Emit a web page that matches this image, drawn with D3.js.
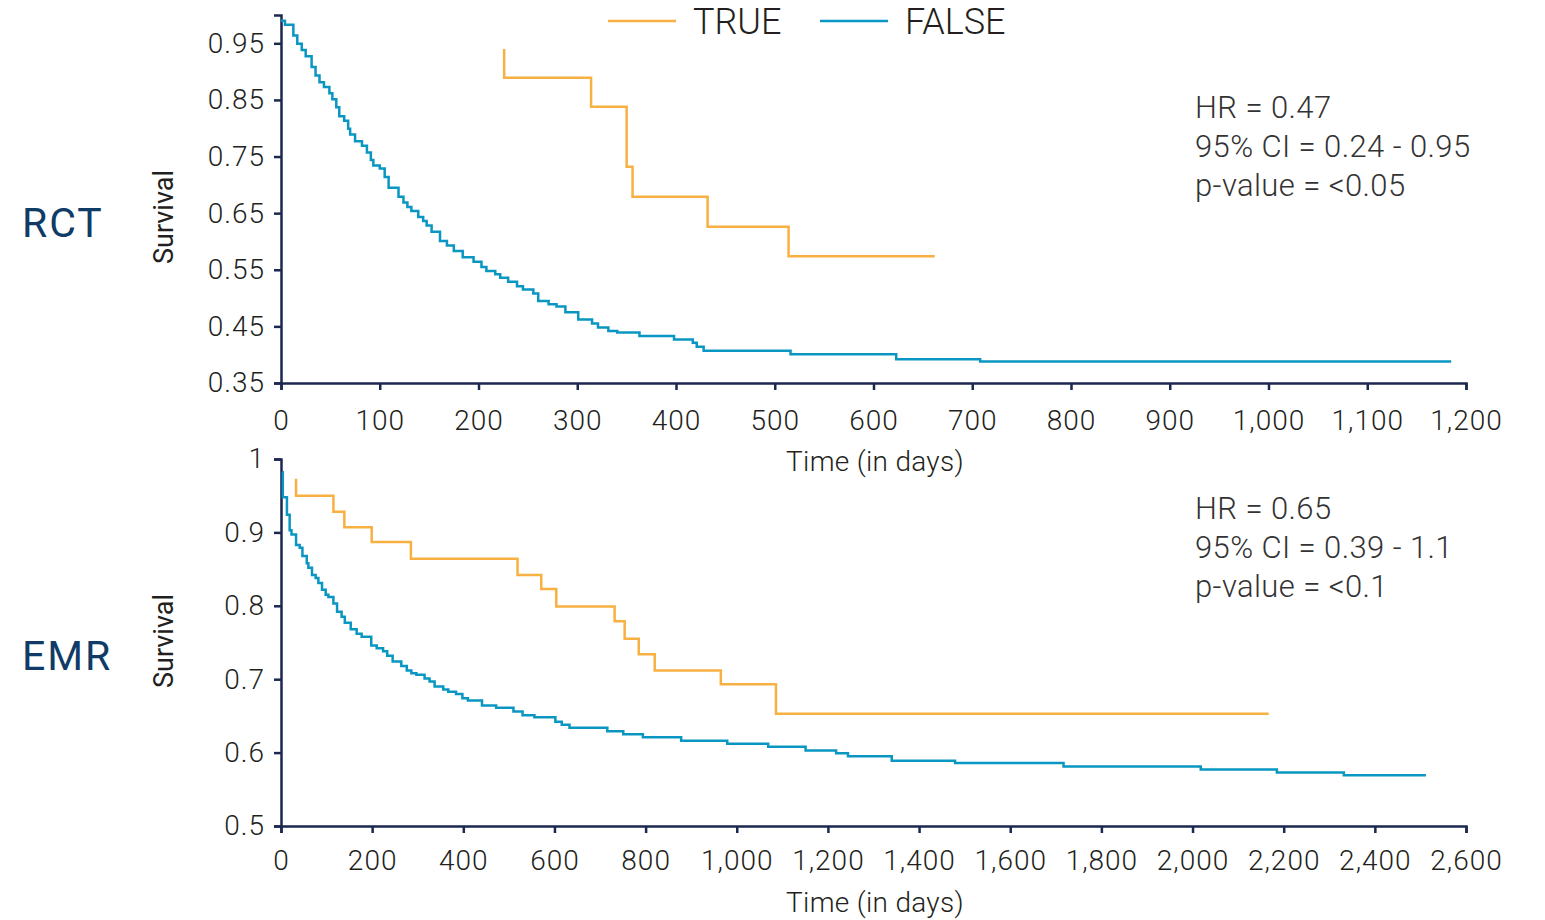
<!DOCTYPE html>
<html>
<head>
<meta charset="utf-8">
<script src="https://cdn.jsdelivr.net/npm/d3@7"></script>
<style>
  body { margin: 0; background: #fff; }
  text { font-family: Roboto, "Liberation Sans", sans-serif; }
</style>
</head>
<body>
<script>
// Kaplan-Meier curves, [time in days, survival]
var rctTrue = [[226, 0.94], [226, 0.889], [314, 0.838], [350, 0.732], [356, 0.679],
  [432, 0.626], [514, 0.574], [662, 0.574]];
var rctFalse = [[0, 0.990], [4, 0.983], [12.5, 0.964], [16.5, 0.949], [21, 0.938], [25, 0.927],
  [31, 0.908], [35, 0.893], [39, 0.881], [43.5, 0.873], [49, 0.862], [52, 0.851], [56, 0.837],
  [59, 0.821], [64, 0.813], [68, 0.799], [70, 0.789], [75, 0.777], [82, 0.769], [87, 0.757],
  [91, 0.744], [93.5, 0.734], [100, 0.729], [105, 0.714], [109, 0.695], [119, 0.679],
  [124, 0.669], [128, 0.661], [132, 0.654], [139, 0.643], [144, 0.636], [147.5, 0.628],
  [152.5, 0.617], [161, 0.601], [168, 0.593], [175, 0.583], [184, 0.572], [195, 0.564],
  [203, 0.555], [208, 0.548], [217, 0.542], [222, 0.536], [230, 0.529], [239, 0.521],
  [245, 0.515], [255.5, 0.508], [260.5, 0.495], [271, 0.489], [279, 0.485], [288, 0.475],
  [301, 0.462], [315, 0.455], [321, 0.448], [331.5, 0.442], [340.5, 0.439], [363, 0.433],
  [398, 0.427], [417, 0.421], [421, 0.414], [428, 0.407], [516, 0.401], [623, 0.392],
  [708, 0.388], [1185, 0.388]];
var emrTrue = [[33, 0.973], [33, 0.950], [115, 0.928], [139, 0.907], [199, 0.887], [285, 0.864],
  [519, 0.842], [571, 0.823], [604, 0.799], [732, 0.779], [754, 0.755], [785, 0.734],
  [820, 0.712], [965, 0.693], [1086, 0.653], [2167, 0.653]];
var emrFalse = [[3, 0.982], [4, 0.948], [13, 0.924], [19, 0.903], [23, 0.897], [33, 0.883],
  [41, 0.879], [47, 0.868], [56.5, 0.858], [60, 0.852], [68, 0.842], [76, 0.838], [82, 0.831],
  [90, 0.822], [98, 0.815], [104, 0.812], [115, 0.803], [123, 0.792], [133, 0.785], [140, 0.777],
  [153, 0.768], [166, 0.762], [177, 0.758], [198, 0.746], [210, 0.742], [224, 0.738],
  [233, 0.732], [245, 0.724], [264, 0.718], [276, 0.712], [286, 0.708], [297, 0.706],
  [315, 0.701], [326, 0.697], [337, 0.690], [356, 0.686], [367, 0.683], [384, 0.680],
  [398, 0.674], [410, 0.671], [441, 0.664], [472, 0.661], [510, 0.656], [530, 0.651],
  [556, 0.648], [602, 0.642], [616, 0.638], [633, 0.634], [716, 0.629], [751, 0.625],
  [794, 0.621], [878, 0.616], [979, 0.612], [1069, 0.608], [1151, 0.603], [1218, 0.599],
  [1244, 0.595], [1340, 0.589], [1479, 0.586], [1717, 0.581], [2018, 0.577], [2185, 0.573],
  [2332, 0.569], [2512, 0.569]];

var rctXTicks = [0, 100, 200, 300, 400, 500, 600, 700, 800, 900, 1000, 1100, 1200];
var rctYTicks = [0.35, 0.45, 0.55, 0.65, 0.75, 0.85, 0.95];
var emrXTicks = [0, 200, 400, 600, 800, 1000, 1200, 1400, 1600, 1800, 2000, 2200, 2400, 2600];
var emrYTicks = [0.5, 0.6, 0.7, 0.8, 0.9, 1];

var legendLabels = ['TRUE', 'FALSE'];
var rctStats = ['HR = 0.47', '95% CI = 0.24 - 0.95', 'p-value = <0.05'];
var emrStats = ['HR = 0.65', '95% CI = 0.39 - 1.1', 'p-value = <0.1'];

var orange = '#f8b042', blue = '#0a96c2', navy = '#1b2850', ink = '#231f20';

var svg = d3.select('body').append('svg')
  .attr('width', 1545)
  .attr('height', 920);

function panel(o) {
  var x = d3.scaleLinear().domain(o.xDomain).range([281, 1466]);
  var y = d3.scaleLinear().domain(o.yDomain).range(o.yRange);
  var g = svg.append('g');

  g.append('g')
    .attr('transform', 'translate(0,' + o.yRange[0] + ')')
    .call(d3.axisBottom(x).tickValues(o.xTicks).tickFormat(d3.format(','))
      .tickSizeOuter(0).tickSize(7).tickPadding(o.xPad));
  g.append('g')
    .attr('transform', 'translate(281,0)')
    .call(d3.axisLeft(y).tickValues(o.yTicks).tickFormat(o.yFormat)
      .tickSizeOuter(0).tickSize(7).tickPadding(9));

  g.selectAll('.domain, .tick line')
    .attr('stroke', navy)
    .attr('stroke-width', 2.5);
  g.selectAll('.tick text')
    .attr('fill', ink)
    .style('font-size', '28px')
    .style('font-weight', 300)
    .style('letter-spacing', '1px');

  var line = d3.line()
    .x(function(d) {return x(d[0])})
    .y(function(d) {return y(d[1])})
    .curve(d3.curveStepAfter);

  g.selectAll('path.km').data([[o.falseData, blue], [o.trueData, orange]])
    .enter()
    .append('path')
    .attr('class', 'km')
    .attr('d', function(d) {return line(d[0])})
    .attr('fill', 'none')
    .attr('stroke', function(d) {return d[1]})
    .attr('stroke-width', 2.5);

  g.append('text')
    .attr('x', 875)
    .attr('y', o.xTitleY)
    .attr('text-anchor', 'middle')
    .attr('fill', ink)
    .style('font-size', '28px')
    .style('font-weight', 300)
    .style('letter-spacing', '0.3px')
    .text('Time (in days)');

  g.append('text')
    .attr('transform', 'translate(173,' + o.survY + ') rotate(-90)')
    .attr('text-anchor', 'middle')
    .attr('fill', ink)
    .style('font-size', '27px')
    .text('Survival');

  g.append('text')
    .attr('x', 22)
    .attr('y', o.labelY)
    .attr('fill', '#0f3b66')
    .style('font-size', '41px')
    .style('letter-spacing', '2px')
    .text(o.label);

  g.selectAll('text.stat').data(o.stats)
    .enter()
    .append('text')
    .attr('class', 'stat')
    .attr('x', 1195)
    .attr('y', function(d, i) {return o.statY + i * 39})
    .attr('fill', '#333')
    .style('font-size', '31px')
    .style('font-weight', 300)
    .style('letter-spacing', '0.4px')
    .text(function(d) {return d});
}

panel({
  label: 'RCT', labelY: 237,
  xDomain: [0, 1200], yDomain: [0.35, 1], yRange: [383, 15],
  xTicks: rctXTicks, yTicks: rctYTicks, yFormat: d3.format('.2f'), xPad: 20,
  trueData: rctTrue, falseData: rctFalse,
  xTitleY: 471, survY: 217, stats: rctStats, statY: 118
});

panel({
  label: 'EMR', labelY: 670,
  xDomain: [0, 2600], yDomain: [0.5, 1], yRange: [826, 459],
  xTicks: emrXTicks, yTicks: emrYTicks, yFormat: d3.format(''), xPad: 17,
  trueData: emrTrue, falseData: emrFalse,
  xTitleY: 912, survY: 641, stats: emrStats, statY: 519
});

// legend
var legend = svg.selectAll('g.legend').data(legendLabels)
  .enter()
  .append('g')
  .attr('class', 'legend')
  .attr('transform', function(d, i) {return 'translate(' + (608 + i * 212) + ',21)'});
legend.append('line')
  .attr('x1', 0).attr('x2', 68)
  .attr('stroke', function(d, i) {return i === 0 ? orange : blue})
  .attr('stroke-width', 2.5);
legend.append('text')
  .attr('x', 85)
  .attr('dy', '0.36em')
  .attr('fill', ink)
  .style('font-size', '36px')
  .style('font-weight', 300)
  .text(function(d) {return d});
</script>
</body>
</html>
